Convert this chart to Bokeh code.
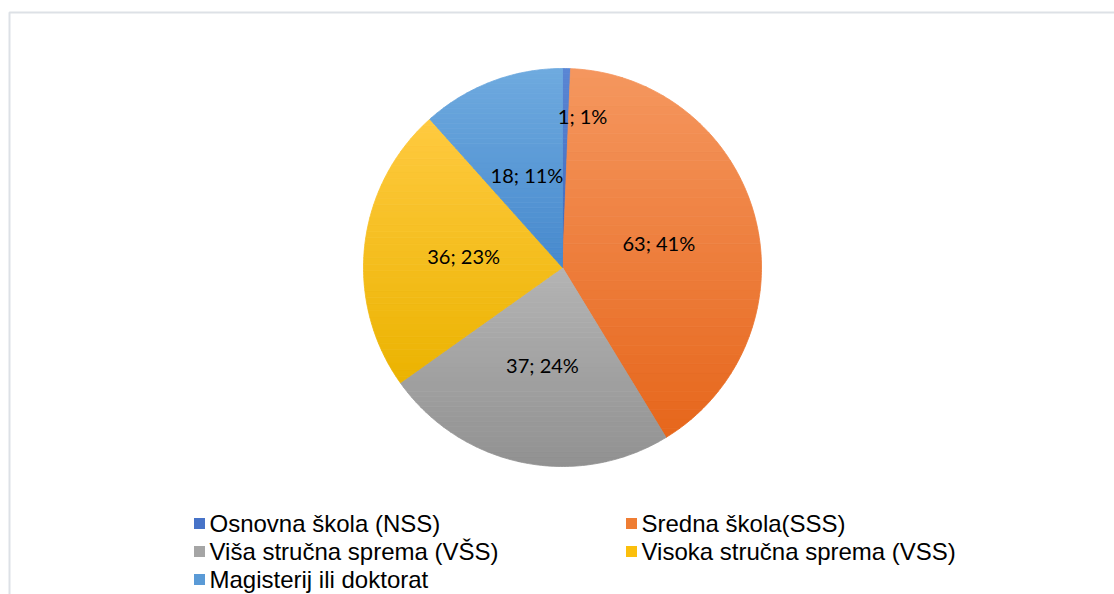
import numpy as np
from bokeh.plotting import figure
from bokeh.models import Range1d
from bokeh.core.properties import value
from bokeh.embed import file_html
from bokeh.resources import INLINE

# ---- data ----
categories = ["Osnovna škola (NSS)", "Sredna škola(SSS)", "Viša stručna sprema (VŠS)",
              "Visoka stručna sprema (VSS)", "Magisterij ili doktorat"]
counts = [1, 63, 37, 36, 18]
percent_labels = ["1%", "41%", "24%", "23%", "11%"]

# ---- style ----
colors = ["#4773c8", "#ef7d33", "#a5a5a5", "#fbbf0c", "#5a9ad6"]
top_colors = ["#5a86d4", "#f5975f", "#b4b4b4", "#ffca40", "#6eaadf"]
bottom_colors = ["#3d68bb", "#e6661b", "#919191", "#ebb300", "#4789cd"]

W, H = 1114, 594
p = figure(width=W, height=H, output_backend="svg", toolbar_location=None,
           x_range=Range1d(0, W), y_range=Range1d(0, H),
           x_axis_type=None, y_axis_type=None, min_border=0,
           outline_line_color=None, background_fill_color="white")
p.grid.visible = False

# chart frame (extends beyond the window on right/bottom)
p.quad(left=[9], right=[W + 20], top=[H - 12], bottom=[-20],
       fill_color=None, line_color="#dde1e6", line_width=2)

cx, cy, R = 562, 327, 199
vals = np.array(counts, dtype=float)
frac = vals / vals.sum()
cum_end = np.cumsum(frac)
cum_start = cum_end - frac
start = np.pi / 2 - cum_start * 2 * np.pi
end = np.pi / 2 - cum_end * 2 * np.pi
mid = (start + end) / 2


def hex2rgb(h):
    h = h.lstrip("#")
    return np.array([int(h[i:i + 2], 16) for i in (0, 2, 4)], dtype=float)


def rgb2hex(c):
    c = np.clip(np.round(c), 0, 255).astype(int)
    return "#%02x%02x%02x" % tuple(c)


def clip_half(poly, yv, keep_above):
    out = []
    n = len(poly)
    for i in range(n):
        a = poly[i]
        b = poly[(i + 1) % n]
        ina = a[1] >= yv if keep_above else a[1] <= yv
        inb = b[1] >= yv if keep_above else b[1] <= yv
        if ina:
            out.append(a)
        if ina != inb:
            t = (yv - a[1]) / (b[1] - a[1])
            out.append((a[0] + t * (b[0] - a[0]), yv))
    return out


xs_all, ys_all, fills = [], [], []
NB = 40
for i in range(len(counts)):
    n_arc = max(4, int(abs(end[i] - start[i]) / (2 * np.pi) * 400))
    ang = np.linspace(start[i], end[i], n_arc)
    poly = [(cx, cy)] + [(cx + R * np.cos(a), cy + R * np.sin(a)) for a in ang]
    ys = [q[1] for q in poly]
    ymin, ymax = min(ys), max(ys)
    edges = np.linspace(ymin, ymax, NB + 1)
    ct, cb = hex2rgb(top_colors[i]), hex2rgb(bottom_colors[i])
    for k in range(NB):
        lo, hi = edges[k], edges[k + 1]
        band = clip_half(clip_half(poly, lo, True), hi, False)
        if len(band) < 3:
            continue
        t = (hi + lo) / 2
        f = (t - ymin) / (ymax - ymin)  # 0 bottom, 1 top
        c = rgb2hex(cb + (ct - cb) * f)
        xs_all.append([q[0] for q in band])
        ys_all.append([q[1] for q in band])
        fills.append(c)

p.patches(xs=xs_all, ys=ys_all, fill_color=fills, line_color=fills, line_width=0.8)

# data labels
rfrac = np.where(frac < 0.02, 0.76, 0.5)
xoff = np.where(frac < 0.02, 17, 0)
lx = cx + rfrac * R * np.cos(mid)
ly = cy + rfrac * R * np.sin(mid)
labels = [f"{c}; {pl}" for c, pl in zip(counts, percent_labels)]
p.text(x=lx, y=ly, text=labels, x_offset=xoff, text_align="center", text_baseline="middle",
       text_font=value("Lato"), text_font_size="20px", text_color="#000000")

# legend (manual, 2 columns, row-major)
idx = np.arange(len(categories))
col = idx % 2
row = idx // 2
mx = np.where(col == 0, 199, 631)
my = 71 - row * 28
p.scatter(x=mx, y=my, marker="square", size=11, fill_color=colors, line_color=None)
p.text(x=mx + 10, y=my, text=categories, text_align="left", text_baseline="middle",
       text_font=value("Liberation Sans"), text_font_size="24px", text_color="#000000")

open("out.html", "w").write(file_html(p, INLINE))
